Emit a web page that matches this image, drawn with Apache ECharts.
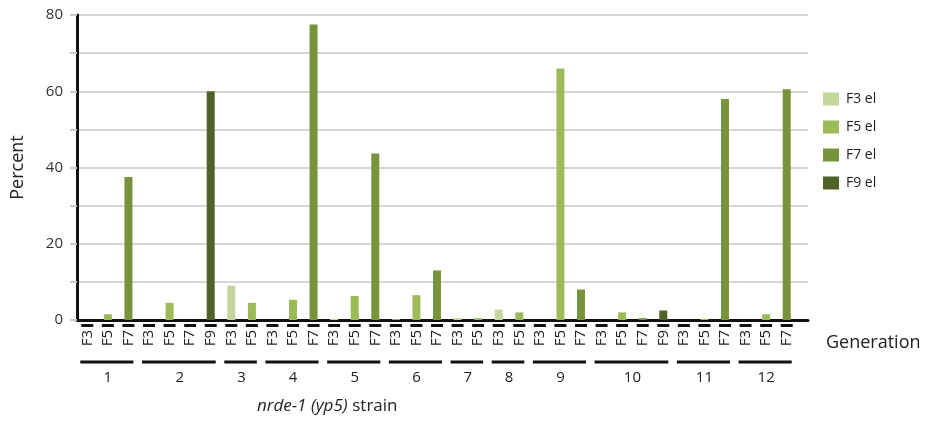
<!DOCTYPE html>
<html>
<head>
<meta charset="utf-8">
<script src="https://cdn.jsdelivr.net/npm/echarts@6/dist/echarts.min.js"></script>
<style>
html,body{margin:0;padding:0;background:#fff;}
#c{width:936px;height:424px;}
</style>
</head>
<body>
<div id="c"></div>
<script>
const strains = ['1','2','3','4','5','6','7','8','9','10','11','12'];
const strainGenerations = [
  ['F3','F5','F7'],
  ['F3','F5','F7','F9'],
  ['F3','F5'],
  ['F3','F5','F7'],
  ['F3','F5','F7'],
  ['F3','F5','F7'],
  ['F3','F5'],
  ['F3','F5'],
  ['F3','F5','F7'],
  ['F3','F5','F7','F9'],
  ['F3','F5','F7'],
  ['F3','F5','F7']
];
const strainPercents = [
  [0, 1.5, 37.5],
  [0, 4.5, 0, 60],
  [9, 4.5],
  [0, 5.3, 77.5],
  [0.3, 6.3, 43.7],
  [0.2, 6.5, 13],
  [0.5, 0.5],
  [2.7, 2],
  [0, 66, 8],
  [0, 2, 0.5, 2.5],
  [0, 0.3, 58],
  [0, 1.5, 60.5]
];
const generationKeys = ['F3','F5','F7','F9'];
const seriesNames = ['F3 el','F5 el','F7 el','F9 el'];
const seriesColors = ['#c3d69b','#9bbb59','#77933c','#4f6228'];
const yMin = 0, yMax = 80, yStep = 10, yLabelStep = 20;

// build slots
const categories = [];
const slotGen = [];
const slotVal = [];
const groupRanges = [];
strains.forEach((s, gi) => {
  const start = categories.length;
  strainGenerations[gi].forEach((g, k) => {
    categories.push(g);
    slotGen.push(g);
    slotVal.push(strainPercents[gi][k]);
  });
  groupRanges.push([start, categories.length - 1]);
});

const FONT = '"Open Sans", "Liberation Sans", sans-serif';
const chart = echarts.init(document.getElementById('c'), null, {renderer: 'canvas'});

const series = generationKeys.map((key, i) => ({
  name: seriesNames[i],
  type: 'bar',
  xAxisIndex: 0,
  yAxisIndex: 0,
  barWidth: 8,
  barGap: '-100%',
  itemStyle: {color: seriesColors[i]},
  data: slotGen.map((g, j) => g === key ? slotVal[j] : '-'),
  z: 2
}));

chart.setOption({
  animation: false,
  backgroundColor: '#ffffff',
  textStyle: {fontFamily: FONT},
  grid: [
    {left: 77, right: 139, top: 15, bottom: 104, containLabel: false, outerBoundsMode: 'none'},
    {left: 77, right: 128, top: 15, bottom: 104, containLabel: false, outerBoundsMode: 'none'}
  ],
  legend: {
    orient: 'vertical',
    left: 818,
    top: 87,
    itemWidth: 16,
    itemHeight: 13,
    itemGap: 14,
    icon: 'rect',
    textStyle: {fontSize: 14, color: '#222', fontFamily: FONT, padding: [0,0,0,2]},
    data: seriesNames
  },
  xAxis: [
    {
      type: 'category',
      gridIndex: 0,
      data: categories,
      axisLine: {show: false},
      axisTick: {show: false},
      axisLabel: {
        interval: 0,
        rotate: 90,
        margin: 4,
        formatter: v => '{t|' + v + '}{d| }',
        rich: {
          t: {fontSize: 15, color: '#222', fontFamily: FONT, padding: [0, 3, 0, 0]},
          d: {width: 3, height: 12, lineHeight: 12, backgroundColor: '#111', fontSize: 1}
        }
      }
    },
    {
      type: 'value',
      gridIndex: 1,
      min: 0,
      max: 1,
      axisLine: {show: true, onZero: false, lineStyle: {color: '#111', width: 3}},
      axisTick: {show: false},
      axisLabel: {show: false},
      splitLine: {show: false}
    }
  ],
  yAxis: [
    {
      type: 'value',
      gridIndex: 0,
      min: yMin,
      max: yMax,
      interval: yStep,
      show: false
    },
    {
      type: 'value',
      gridIndex: 1,
      min: yMin,
      max: yMax,
      interval: yStep,
      name: 'Percent',
      nameLocation: 'middle',
      nameGap: 50,
      nameRotate: 90,
      nameTextStyle: {fontSize: 18, color: '#222', fontFamily: FONT},
      axisLine: {show: true, lineStyle: {color: '#111', width: 3}},
      axisTick: {show: true, length: 7, lineStyle: {color: '#c8c8c8', width: 2}},
      axisLabel: {
        margin: 14,
        fontSize: 15,
        color: '#333',
        fontFamily: FONT,
        formatter: v => (v % yLabelStep === 0 ? String(v) : '')
      },
      splitLine: {show: true, lineStyle: {color: '#d6d6d6', width: 2}}
    }
  ],
  title: [
    {
      text: '{i|nrde-1 (yp5)} {n|strain}',
      left: 257,
      top: 397,
      padding: 0,
      textStyle: {
        fontWeight: 'normal',
        rich: {
          i: {fontSize: 17, fontStyle: 'italic', fontWeight: 'normal', color: '#222', fontFamily: FONT},
          n: {fontSize: 17, fontWeight: 'normal', color: '#222', fontFamily: FONT}
        }
      }
    },
    {
      text: 'Generation',
      left: 826,
      top: 334,
      padding: 0,
      textStyle: {fontSize: 18, fontWeight: 'normal', color: '#222', fontFamily: FONT}
    }
  ],
  series: series
});

// group brackets and numbers derived from axis positions
const graphics = [];
groupRanges.forEach((r, gi) => {
  const xa = chart.convertToPixel({xAxisIndex: 0}, r[0]);
  const xb = chart.convertToPixel({xAxisIndex: 0}, r[1]);
  graphics.push({
    type: 'line',
    shape: {x1: xa - 7, y1: 362, x2: xb + 5, y2: 362},
    style: {stroke: '#111', lineWidth: 3}
  });
  graphics.push({
    type: 'text',
    x: (xa + xb) / 2,
    y: 378,
    style: {
      text: strains[gi],
      fontSize: 15,
      fontFamily: FONT,
      fill: '#222',
      align: 'center',
      verticalAlign: 'middle'
    }
  });
});
chart.setOption({graphic: graphics});
</script>
</body>
</html>
